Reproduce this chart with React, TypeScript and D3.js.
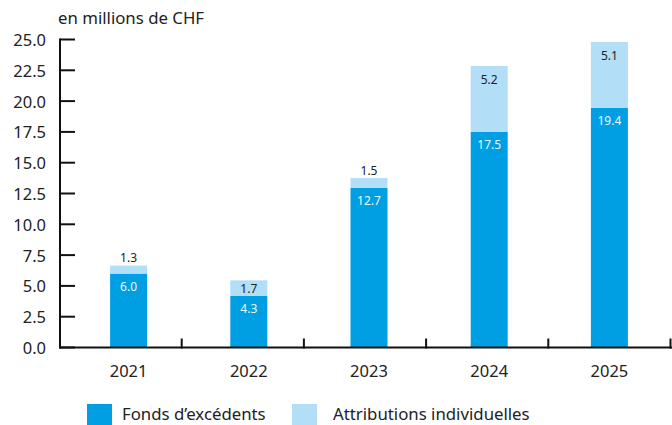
import React from "react";
import * as d3 from "d3";

const years = ["2021", "2022", "2023", "2024", "2025"];
// segment heights as drawn in the picture
const fondsValues = [6.0, 4.2, 12.95, 17.5, 19.45];
const attribValues = [0.65, 1.25, 0.8, 5.35, 5.35];
// printed labels
const fondsLabels = ["6.0", "4.3", "12.7", "17.5", "19.4"];
const attribLabels = ["1.3", "1.7", "1.5", "5.2", "5.1"];
const yTicks = [0, 2.5, 5, 7.5, 10, 12.5, 15, 17.5, 20, 22.5, 25];
const seriesNames = ["Fonds d’excédents", "Attributions individuelles"];

const W = 672;
const H = 425;
const DARK = "#009fe3";
const LIGHT = "#b2def7";
const TEXT = "#222222";
const FONT = "'Noto Sans', sans-serif";

export default function App() {
  const y = d3.scaleLinear().domain([0, 25]).range([347.5, 39.5]);
  const xBars = d3.scaleBand<string>().domain(years).range([68.5, 669.5]).paddingInner(0.69).paddingOuter(0.345);
  const xTicks = d3.scaleBand<string>().domain(years).range([59.5, 670.5]);
  const bw = xBars.bandwidth();

  return (
    <svg width={W} height={H} style={{ position: "absolute", left: 0, top: 0, display: "block" }} fontFamily={FONT}>
      <text x={58} y={24} fontSize={16.8} fill={TEXT}>en millions de CHF</text>

      {/* bars */}
      {years.map((yr, i) => {
        const cx = (xBars(yr) as number) + bw / 2;
        const x0 = cx - 18.5;
        const f = fondsValues[i];
        const a = attribValues[i];
        const yF = y(f);
        const yA = y(f + a);
        const hA = yF - yA;
        return (
          <g key={yr}>
            <rect x={x0} y={yF} width={37} height={y(0) - yF} fill={DARK} />
            <rect x={x0} y={yA} width={37} height={hA} fill={LIGHT} />
            <text x={cx} y={yF + 13} fontSize={12} fill="#eaf7fe" textAnchor="middle" dominantBaseline="central">
              {fondsLabels[i]}
            </text>
            {hA > 14 ? (
              <text x={cx} y={hA > 30 ? yA + 14 : (yA + yF) / 2} fontSize={12} fill={TEXT} textAnchor="middle" dominantBaseline="central">
                {attribLabels[i]}
              </text>
            ) : (
              <text x={cx} y={yA - 8} fontSize={12} fill={TEXT} textAnchor="middle" dominantBaseline="central">
                {attribLabels[i]}
              </text>
            )}
            <text x={cx} y={370} fontSize={16.5} fill={TEXT} textAnchor="middle" dominantBaseline="central">
              {yr}
            </text>
          </g>
        );
      })}

      {/* y axis */}
      <line x1={60} x2={60} y1={y(25) - 1} y2={y(0) + 1} stroke="#111" strokeWidth={2} />
      {yTicks.map((t) => (
        <g key={t}>
          <line x1={60} x2={75} y1={y(t)} y2={y(t)} stroke="#111" strokeWidth={2} />
          <text x={46} y={y(t)} fontSize={16.5} fill={TEXT} textAnchor="end" dominantBaseline="central">
            {d3.format(".1f")(t)}
          </text>
        </g>
      ))}

      {/* x axis */}
      <line x1={59} x2={672} y1={y(0)} y2={y(0)} stroke="#111" strokeWidth={2} />
      {years.map((yr) => {
        const xe = (xTicks(yr) as number) + xTicks.bandwidth();
        return <line key={yr} x1={xe} x2={xe} y1={y(0) - 9} y2={y(0) + 1} stroke="#111" strokeWidth={2} />;
      })}

      {/* legend */}
      <rect x={87} y={404} width={25} height={22} fill={DARK} />
      <text x={122} y={420} fontSize={16.8} fill={TEXT}>{seriesNames[0]}</text>
      <rect x={292} y={404} width={25} height={22} fill={LIGHT} />
      <text x={333} y={420} fontSize={16.8} fill={TEXT}>{seriesNames[1]}</text>
    </svg>
  );
}
